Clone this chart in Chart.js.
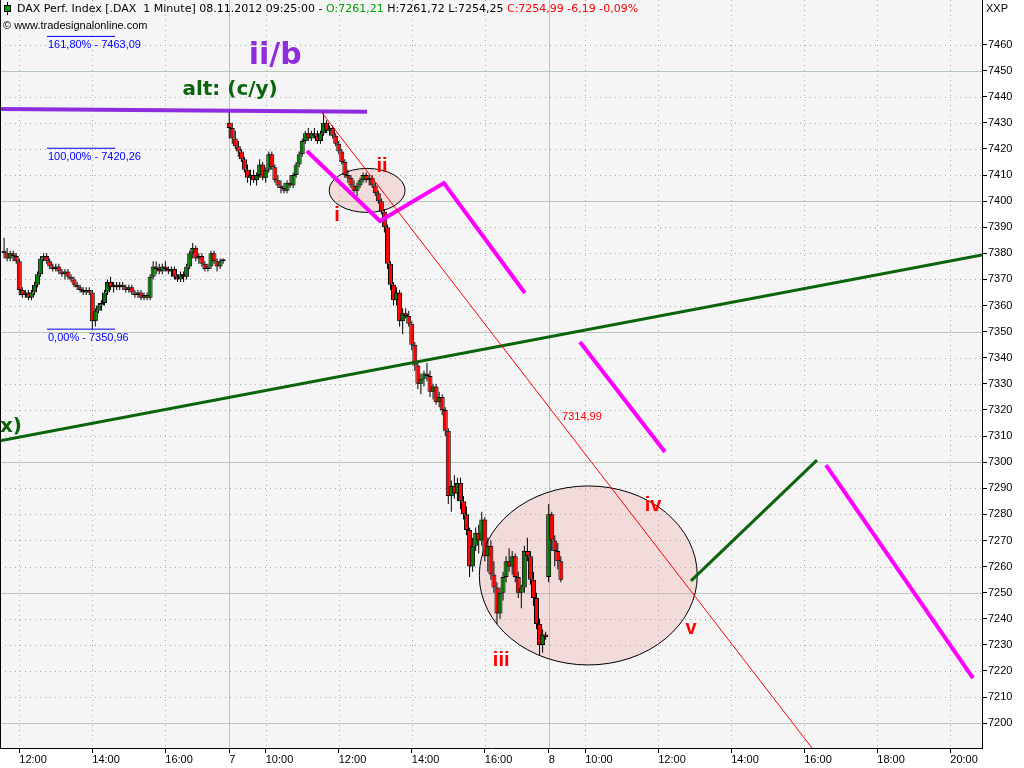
<!DOCTYPE html>
<html>
<head>
<meta charset="utf-8">
<title>DAX Perf. Index - 1 Minute</title>
<script src="https://cdn.jsdelivr.net/npm/chart.js@4.4.1/dist/chart.umd.min.js"></script>
<style>
  html, body { margin: 0; padding: 0; background: #fff; }
  #wrap { width: 1024px; height: 768px; }
</style>
</head>
<body>
<div id="wrap"><canvas id="chart" width="1024" height="768"></canvas></div>
<script>
// x values are trading minutes counted from 6 Nov 09:00 (one session = 525 min, 09:00-17:45)
const BAR_MIN = 5;
const day6Start = 155;
const day7Start = 525;
const day8Start = 1050;

// [open, high, low, close] per 5-minute bar
const day6Bars = [
  [7381,7386,7378,7380],[7380,7382,7377,7378],[7378,7381,7377,7380],[7380,7381,7377,7379],[7379,7380,7376,7377],
  [7377,7378,7364,7366],[7366,7367,7363,7364],[7364,7366,7363,7365],[7365,7366,7362,7363],[7363,7366,7362,7365],
  [7365,7369,7364,7368],[7368,7373,7367,7372],[7372,7379,7371,7378],[7378,7380,7377,7379],[7379,7380,7376,7377],
  [7377,7378,7374,7375],[7375,7376,7373,7374],[7374,7376,7373,7375],[7375,7376,7372,7373],[7373,7374,7371,7372],
  [7372,7374,7370,7373],[7373,7374,7370,7371],[7371,7372,7369,7370],[7370,7371,7367,7368],[7368,7369,7366,7367],
  [7367,7368,7365,7366],[7366,7367,7364,7365],[7365,7367,7364,7366],[7366,7367,7364,7365],[7365,7366,7351,7354],
  [7354,7359,7352,7358],[7358,7361,7357,7360],[7360,7362,7358,7361],[7361,7366,7360,7365],[7365,7370,7364,7369],
  [7369,7371,7366,7367],[7367,7369,7365,7368],[7368,7369,7366,7367],[7367,7369,7366,7368],[7368,7369,7366,7367],
  [7367,7368,7365,7366],[7366,7368,7365,7367],[7367,7368,7364,7365],[7365,7366,7363,7364],[7364,7366,7363,7365],
  [7365,7366,7362,7363],[7363,7365,7362,7364],[7364,7365,7362,7363],[7363,7372,7362,7371],[7371,7377,7370,7375],
  [7375,7377,7372,7374],[7374,7376,7372,7373],[7373,7376,7372,7375],[7375,7377,7373,7374],[7374,7375,7372,7373],
  [7373,7375,7371,7374],[7374,7375,7370,7371],[7371,7372,7369,7370],[7370,7373,7369,7372],[7372,7373,7369,7371],
  [7371,7376,7370,7375],[7375,7381,7374,7380],[7380,7384,7378,7382],[7382,7383,7377,7378],[7378,7380,7376,7379],
  [7379,7380,7375,7376],[7376,7377,7373,7374],[7374,7376,7373,7375],[7375,7381,7374,7380],[7380,7381,7376,7377],
  [7377,7378,7373,7375],[7375,7378,7374,7377],[7377,7378,7376,7377]
];

const day7Bars = [
  [7430,7435,7424,7428],[7428,7430,7422,7424],[7424,7427,7420,7421],[7421,7423,7417,7419],[7419,7420,7415,7416],
  [7416,7417,7411,7412],[7412,7414,7407,7409],[7409,7412,7406,7410],[7410,7412,7407,7408],[7408,7411,7406,7410],
  [7410,7416,7409,7414],[7414,7415,7408,7409],[7409,7413,7407,7412],[7412,7419,7411,7418],[7418,7419,7412,7413],
  [7413,7414,7407,7408],[7408,7410,7405,7406],[7406,7408,7403,7405],[7405,7407,7403,7404],[7404,7408,7403,7407],
  [7407,7410,7405,7406],[7406,7411,7405,7410],[7410,7415,7409,7414],[7414,7419,7413,7418],[7418,7424,7417,7423],
  [7423,7427,7422,7426],[7426,7428,7423,7424],[7424,7427,7423,7426],[7426,7428,7424,7425],[7425,7427,7422,7423],
  [7423,7427,7422,7426],[7426,7434,7425,7430],[7430,7431,7426,7427],[7427,7429,7425,7428],[7428,7429,7424,7425],
  [7425,7426,7421,7422],[7422,7423,7418,7419],[7419,7420,7414,7415],[7415,7416,7409,7410],[7410,7412,7407,7409],
  [7409,7410,7405,7406],[7406,7408,7403,7404],[7404,7407,7402,7406],[7406,7409,7405,7408],[7408,7411,7407,7410],
  [7410,7411,7407,7408],[7408,7410,7406,7409],[7409,7410,7405,7406],[7406,7407,7402,7403],[7403,7404,7399,7400],
  [7400,7401,7395,7396],[7396,7397,7388,7390],[7390,7391,7374,7376],[7376,7377,7366,7368],[7368,7369,7360,7362],
  [7362,7367,7360,7365],[7365,7366,7352,7354],[7354,7359,7349,7357],[7357,7359,7355,7356],[7356,7358,7352,7353],
  [7353,7354,7343,7345],[7345,7346,7335,7337],[7337,7338,7328,7330],[7330,7334,7326,7332],[7332,7335,7329,7334],
  [7334,7338,7331,7333],[7333,7335,7325,7327],[7327,7330,7324,7329],[7329,7330,7322,7323],[7323,7327,7321,7325],
  [7325,7326,7318,7320],[7320,7321,7310,7312],[7312,7313,7284,7287],[7287,7293,7281,7291],[7291,7295,7286,7288],
  [7288,7294,7285,7292],[7292,7294,7282,7285],[7285,7287,7278,7280],[7280,7283,7272,7274],[7274,7275,7256,7260],
  [7260,7271,7258,7268],[7268,7275,7266,7273],[7273,7276,7265,7270],[7270,7281,7268,7278],[7278,7279,7262,7264],
  [7264,7271,7258,7268],[7268,7270,7255,7257],[7257,7262,7250,7252],[7252,7254,7238,7242],[7242,7252,7240,7250],
  [7250,7258,7247,7256],[7256,7264,7254,7262],[7262,7267,7258,7260],[7260,7266,7257,7264],[7264,7265,7254,7256],
  [7256,7258,7248,7250],[7250,7253,7244,7252],[7252,7268,7250,7266],[7266,7271,7262,7264],[7264,7266,7253,7255],
  [7255,7258,7245,7248],[7248,7250,7236,7238],[7238,7240,7226,7230],[7230,7236,7227,7234],[7234,7235,7232,7233]
];

const day8Bars = [
  [7256,7284,7254,7280],[7280,7281,7266,7270],[7270,7272,7260,7266],[7266,7269,7259,7262],[7262,7264,7254,7255]
];

const xTickValues = [180, 300, 420, 525, 585, 705, 825, 945, 1050, 1110, 1230, 1350, 1470, 1590, 1710];
const xTickLabels = ['12:00', '14:00', '16:00', '7', '10:00', '12:00', '14:00', '16:00', '8', '10:00', '12:00', '14:00', '16:00', '18:00', '20:00'];
const dayBreaks = [525, 1050];

const yTickValues = [7200, 7210, 7220, 7230, 7240, 7250, 7260, 7270, 7280, 7290, 7300, 7310, 7320,
  7330, 7340, 7350, 7360, 7370, 7380, 7390, 7400, 7410, 7420, 7430, 7440, 7450, 7460];

const fibLevels = [
  { label: '161,80% - 7463,09', price: 7463.09 },
  { label: '100,00% - 7420,26', price: 7420.26 },
  { label: '0,00% - 7350,96', price: 7350.96 }
];

const X_MIN = 148.3, X_MAX = 1762.1;
const Y_MIN = 7190.5, Y_MAX = 7477.05;

const PURPLE = '#8e2de0';
const MAGENTA = '#ff00ff';
const DKGREEN = '#0b640b';
const RED = '#ff0000';
const UP_GREEN = '#007a00';

// drawn trend lines, in (minutes, price)
const trendLines = [
  { pts: [[148.3, 7435.3], [751.4, 7434.2]], color: PURPLE, width: 4 },
  { pts: [[677.5, 7433.8], [1482.7, 7190.5]], color: RED, width: 1 },
  { pts: [[652.6, 7419.2], [772.6, 7392.4], [877.8, 7406.9], [1010.9, 7364.8]], color: MAGENTA, width: 4 },
  { pts: [[1101.4, 7346.0], [1241.1, 7303.9]], color: MAGENTA, width: 4 },
  { pts: [[1505.7, 7298.9], [1747.3, 7217.3]], color: MAGENTA, width: 4 },
  { pts: [[148.3, 7308.2], [1762.1, 7379.4]], color: DKGREEN, width: 3 },
  { pts: [[1283.8, 7254.5], [1490.9, 7300.8]], color: DKGREEN, width: 3 }
];

const ellipses = [
  { cx: 751.6, cy: 7404.1, rx: 62.4, ry: 8.43 },
  { cx: 1115.1, cy: 7256.6, rx: 179.1, ry: 34.29 }
];

const waveLabels = [
  { text: 'ii/b', x: 600.6, y: 7455.6, color: PURPLE, font: 'bold 30px "DejaVu Sans"', align: 'center' },
  { text: 'alt: (c/y)', x: 526.4, y: 7442.6, color: DKGREEN, font: 'bold 20px "DejaVu Sans"', align: 'center' },
  { text: 'x)', x: 184.4, y: 7313.4, color: DKGREEN, font: 'bold 20px "DejaVu Sans"', align: 'right' },
  { text: 'i', x: 702.1, y: 7394.4, color: RED, font: 'bold 20px "Liberation Sans"', align: 'center' },
  { text: 'ii', x: 776.0, y: 7413.1, color: RED, font: 'bold 20px "Liberation Sans"', align: 'center' },
  { text: 'iii', x: 971.9, y: 7224.2, color: RED, font: 'bold 20px "Liberation Sans"', align: 'center' },
  { text: 'iv', x: 1221.5, y: 7283.5, color: RED, font: 'bold 20px "Liberation Sans"', align: 'center' },
  { text: 'v', x: 1283.8, y: 7236.4, color: RED, font: 'bold 20px "Liberation Sans"', align: 'center' },
  { text: '7314,99', x: 1072.0, y: 7317.3, color: RED, font: '11px "Liberation Sans"', align: 'left' }
];

const FIB_FROM = 225.5, FIB_TO = 337.3;

// build candle pieces
const candleBodies = [];
const candleWicks = [];
function addDay(bars, start) {
  bars.forEach((b, i) => {
    const x = start + i * BAR_MIN;
    candleWicks.push({ x: x, y: [b[2], b[1]] });
    candleBodies.push({ x: x, y: [b[0], b[3]], up: b[3] >= b[0] });
  });
}
addDay(day6Bars, day6Start);
addDay(day7Bars, day7Start);
addDay(day8Bars, day8Start);

const lineSets = trendLines.map(t => ({
  type: 'line',
  data: t.pts.map(p => ({ x: p[0], y: p[1] })),
  borderColor: t.color,
  borderWidth: t.width,
  pointRadius: 0,
  fill: false,
  tension: 0
}));

const fibSets = fibLevels.map(f => ({
  type: 'line',
  data: [{ x: FIB_FROM, y: f.price }, { x: FIB_TO, y: f.price }],
  borderColor: '#0000ff',
  borderWidth: 1,
  pointRadius: 0,
  fill: false
}));

const bodySet = {
  type: 'bar',
  data: candleBodies,
  backgroundColor: c => (c.raw && c.raw.up ? UP_GREEN : RED),
  borderColor: '#000',
  borderWidth: 1,
  borderSkipped: false,
  inflateAmount: 0,
  barThickness: 5,
  minBarLength: 2,
  grouped: false
};

const wickSet = {
  type: 'bar',
  data: candleWicks,
  backgroundColor: '#000',
  borderWidth: 0,
  inflateAmount: 0,
  barThickness: 1,
  grouped: false
};

function clipArea(ctx, a) {
  ctx.beginPath();
  ctx.rect(a.left, a.top, a.right - a.left, a.bottom - a.top);
  ctx.clip();
}

const plotDecor = {
  id: 'plotDecor',
  beforeDraw(chart) {
    const { ctx, chartArea: a, scales } = chart;
    ctx.save();
    ctx.fillStyle = '#f5f5f5';
    ctx.fillRect(a.left, a.top, a.right - a.left, a.bottom - a.top);

    // horizontal grid
    yTickValues.forEach(v => {
      const y = Math.round(scales.y.getPixelForValue(v)) + 0.5;
      ctx.beginPath();
      if (v % 50 === 0) {
        ctx.setLineDash([]);
        ctx.strokeStyle = '#b4c8b4';
      } else {
        ctx.setLineDash([1, 4]);
        ctx.strokeStyle = '#a4ada4';
      }
      ctx.moveTo(a.left, y);
      ctx.lineTo(a.right, y);
      ctx.stroke();
    });
    // vertical grid
    xTickValues.forEach(v => {
      const x = Math.round(scales.x.getPixelForValue(v)) + 0.5;
      ctx.beginPath();
      if (dayBreaks.includes(v)) {
        ctx.setLineDash([]);
        ctx.strokeStyle = '#b4c8b4';
      } else {
        ctx.setLineDash([1, 4]);
        ctx.strokeStyle = '#a4ada4';
      }
      ctx.moveTo(x, a.top);
      ctx.lineTo(x, a.bottom);
      ctx.stroke();
    });
    ctx.restore();
  },
  beforeDatasetsDraw(chart) {
    const { ctx, chartArea: a, scales } = chart;
    ctx.save();
    clipArea(ctx, a);
    ellipses.forEach(e => {
      const cx = scales.x.getPixelForValue(e.cx);
      const cy = scales.y.getPixelForValue(e.cy);
      const rx = scales.x.getPixelForValue(e.cx + e.rx) - cx;
      const ry = cy - scales.y.getPixelForValue(e.cy + e.ry);
      ctx.beginPath();
      ctx.ellipse(cx, cy, rx, ry, 0, 0, Math.PI * 2);
      ctx.fillStyle = 'rgba(232,160,160,0.3)';
      ctx.fill();
      ctx.lineWidth = 1;
      ctx.strokeStyle = '#000';
      ctx.stroke();
    });
    ctx.restore();
  },
  afterDatasetsDraw(chart) {
    const { ctx, chartArea: a, scales } = chart;
    ctx.save();
    clipArea(ctx, a);
    ctx.textBaseline = 'middle';

    waveLabels.forEach(l => {
      ctx.font = l.font;
      ctx.fillStyle = l.color;
      ctx.textAlign = l.align;
      ctx.fillText(l.text, scales.x.getPixelForValue(l.x), scales.y.getPixelForValue(l.y));
    });

    ctx.font = '11px "Liberation Sans"';
    ctx.textAlign = 'left';
    ctx.fillStyle = '#0000ff';
    fibLevels.forEach(f => {
      ctx.fillText(f.label, scales.x.getPixelForValue(FIB_FROM) + 1, scales.y.getPixelForValue(f.price) + 9);
    });

    // header line with the little candle icon
    ctx.fillStyle = '#000';
    ctx.fillRect(7, 2, 1, 13);
    ctx.fillRect(4, 5, 7, 7);
    ctx.fillStyle = '#00a000';
    ctx.fillRect(5, 6, 5, 5);

    ctx.font = '11px "DejaVu Sans"';
    const segs = [
      ['DAX Perf. Index [.DAX  1 Minute] 08.11.2012 09:25:00 - ', '#000'],
      ['O:7261,21', '#00a000'],
      [' H:7261,72 L:7254,25 ', '#000'],
      ['C:7254,99 -6,19 -0,09%', '#ff0000']
    ];
    let hx = 17;
    segs.forEach(s => {
      ctx.fillStyle = s[1];
      ctx.fillText(s[0], hx, 9);
      hx += ctx.measureText(s[0]).width;
    });
    ctx.font = '11px "Liberation Sans"';
    ctx.fillStyle = '#000';
    ctx.fillText('\u00a9 www.tradesignalonline.com', 3, 26);
    ctx.restore();
  },
  afterDraw(chart) {
    const { ctx, chartArea: a } = chart;
    ctx.save();
    ctx.fillStyle = '#000';
    ctx.fillRect(a.left, a.top, 1, a.bottom - a.top);
    ctx.font = '11px "Liberation Sans"';
    ctx.textBaseline = 'middle';
    ctx.fillText('XXP', a.right + 4, 9);
    ctx.restore();
  }
};

Chart.defaults.font.family = '"Liberation Sans", Arial, sans-serif';
Chart.defaults.font.size = 11;
Chart.defaults.color = '#000';

function noPadding(s) {
  s.paddingTop = 0;
  s.paddingBottom = 0;
  s.paddingLeft = 0;
  s.paddingRight = 0;
}

new Chart(document.getElementById('chart'), {
  type: 'bar',
  data: { datasets: [...lineSets, ...fibSets, bodySet, wickSet] },
  options: {
    responsive: false,
    animation: false,
    devicePixelRatio: 1,
    layout: { padding: 0 },
    plugins: { legend: { display: false }, tooltip: { enabled: false } },
    scales: {
      x: {
        type: 'linear',
        min: X_MIN,
        max: X_MAX,
        offset: false,
        grid: { drawOnChartArea: false, drawTicks: true, tickLength: 5, tickColor: '#000', offset: false },
        border: { display: true, color: '#000' },
        ticks: {
          align: 'start', padding: 0, autoSkip: false, maxRotation: 0,
          callback: (v, i) => xTickLabels[i]
        },
        afterBuildTicks: s => { s.ticks = xTickValues.map(v => ({ value: v })); },
        afterFit: s => { s.height = 20; noPadding(s); }
      },
      y: {
        position: 'right',
        min: Y_MIN,
        max: Y_MAX,
        grid: { drawOnChartArea: false, drawTicks: true, tickLength: 5, tickColor: '#000' },
        border: { display: true, color: '#000' },
        ticks: { padding: 1, autoSkip: false, callback: v => String(v) },
        afterBuildTicks: s => { s.ticks = yTickValues.map(v => ({ value: v })); },
        afterFit: s => { s.width = 42; noPadding(s); }
      }
    }
  },
  plugins: [plotDecor]
});
</script>
</body>
</html>
